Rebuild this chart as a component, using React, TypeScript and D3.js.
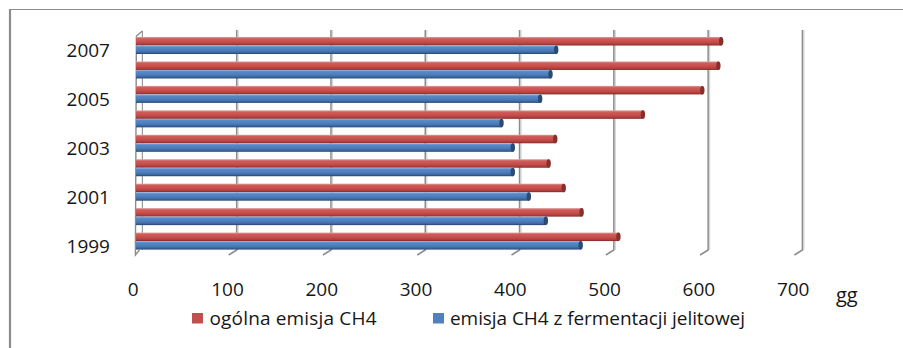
import React from "react";
import * as d3 from "d3";

const years = ["2007", "2006", "2005", "2004", "2003", "2002", "2001", "2000", "1999"];
const yearLabels = ["2007", "2005", "2003", "2001", "1999"];
const totalCH4 = [618, 615, 598, 535, 442, 435, 451, 470, 509];
const entericCH4 = [443, 437, 426, 385, 397, 397, 414, 432, 469];
const xTicks = [0, 100, 200, 300, 400, 500, 600, 700];
const seriesNames = ["ogólna emisja CH4", "emisja CH4 z fermentacji jelitowej"];
const unitLabel = "gg";

const W = 903;
const H = 348;
const FONT = "'Open Sans', 'Noto Sans', sans-serif";

export default function App() {
  const x = d3.scaleLinear().domain([0, 700]).range([142.4, 802.4]);
  const y = d3.scaleBand().domain(years).range([30, 250]).paddingInner(0).paddingOuter(0);
  const bh = 8.5;
  const barOff = -3.4; // depth offset for bars
  const dx = -8;
  const dy = 5;

  const bar = (v: number, yy: number, grad: string, cap: string, key: string) => {
    const x0 = x(0) + barOff - 3;
    const x1 = x(v) + barOff;
    return (
      <g key={key}>
        <rect x={x0} y={yy} width={x1 - x0} height={bh} fill={`url(#${grad})`} />
        <ellipse cx={x1 - 0.5} cy={yy + bh / 2} rx={2.2} ry={bh / 2} fill={cap} />
      </g>
    );
  };

  return (
    <svg
      width={W}
      height={H}
      style={{ position: "absolute", left: 0, top: 0, background: "#fff" }}
      fontFamily={FONT}
    >
      <defs>
        <linearGradient id="gRed" x1="0" y1="0" x2="0" y2="1">
          <stop offset="0" stopColor="#dfa09e" />
          <stop offset="0.2" stopColor="#d05c59" />
          <stop offset="0.55" stopColor="#c64f4c" />
          <stop offset="0.82" stopColor="#b0403d" />
          <stop offset="1" stopColor="#772927" />
        </linearGradient>
        <linearGradient id="gBlue" x1="0" y1="0" x2="0" y2="1">
          <stop offset="0" stopColor="#9cb8df" />
          <stop offset="0.2" stopColor="#5888c8" />
          <stop offset="0.55" stopColor="#4c7ebb" />
          <stop offset="0.82" stopColor="#3c68a0" />
          <stop offset="1" stopColor="#23416a" />
        </linearGradient>
      </defs>
      <rect x={0} y={0} width={W} height={H} fill="#fff" />
      {/* outer border */}
      <line x1={10} y1={9.5} x2={W} y2={9.5} stroke="#8c8c8c" strokeWidth={1.2} />
      <line x1={10} y1={9} x2={10} y2={H} stroke="#8c8c8c" strokeWidth={2.2} />

      {/* gridlines (back wall) with floor slants */}
      {xTicks.map((t) => {
        const gx = x(t);
        if (t === 0) {
          return (
            <g key={t}>
              <line x1={gx} y1={31} x2={gx} y2={250} stroke="#9a9a9a" strokeWidth={1.2} />
              <path
                d={`M${gx},31 L${gx + dx + 2},36 L${gx + dx + 1},255 L${gx - 3},250`}
                fill="none"
                stroke="#8c8c8c"
                strokeWidth={1.4}
              />
            </g>
          );
        }
        return (
          <g key={t}>
            <line x1={gx + 1.5} y1={30} x2={gx + 1.5} y2={250} stroke="#d6d6d6" strokeWidth={1.2} />
            <path
              d={`M${gx},30 L${gx},250 L${gx + dx},${250 + dy}`}
              fill="none"
              stroke="#8c8c8c"
              strokeWidth={1.5}
            />
          </g>
        );
      })}

      {/* bars */}
      {years.map((yr, i) => {
        const b = y(yr)!;
        return (
          <g key={yr}>
            {bar(totalCH4[i], b + 7, "gRed", "#86302e", "r" + yr)}
            {bar(entericCH4[i], b + 15.5, "gBlue", "#2a4a72", "b" + yr)}
          </g>
        );
      })}

      {/* year labels */}
      {yearLabels.map((yr) => (
        <text
          key={yr}
          x={110}
          y={y(yr)! + 20}
          textAnchor="end"
          dominantBaseline="central"
          fontSize={19}
          fill="#161616"
        >
          {yr}
        </text>
      ))}

      {/* x tick labels */}
      {xTicks.map((t) => (
        <text
          key={t}
          x={x(t) - 9.2}
          y={289}
          textAnchor="middle"
          dominantBaseline="central"
          fontSize={19}
          fill="#161616"
        >
          {t}
        </text>
      ))}
      <text x={836} y={294} dominantBaseline="central" fontSize={20} fill="#161616">
        {unitLabel}
      </text>

      {/* legend */}
      <rect x={192} y={313} width={11} height={10.5} fill="#c0504d" />
      <text
        x={209.5}
        y={318}
        dominantBaseline="central"
        fontSize={19}
        fill="#161616"
        textLength={167}
        lengthAdjust="spacing"
      >
        {seriesNames[0]}
      </text>
      <rect x={433} y={313} width={11} height={10.5} fill="#4f81bd" />
      <text
        x={450}
        y={318}
        dominantBaseline="central"
        fontSize={19}
        fill="#161616"
        textLength={295}
        lengthAdjust="spacing"
      >
        {seriesNames[1]}
      </text>
    </svg>
  );
}
